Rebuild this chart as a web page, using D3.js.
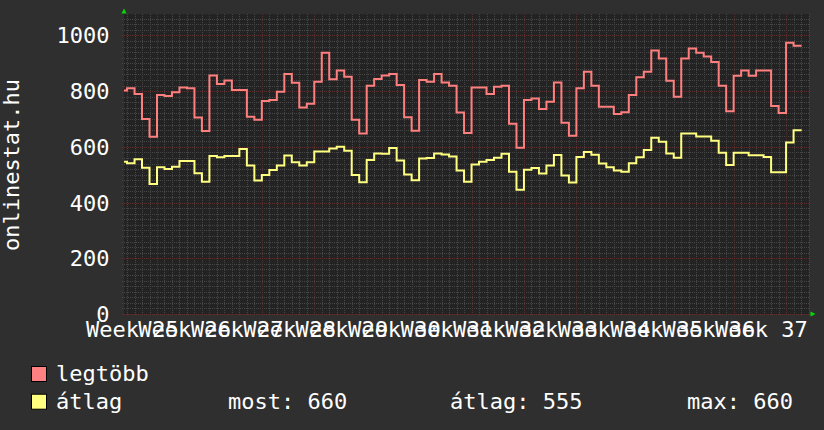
<!DOCTYPE html>
<html>
<head>
<meta charset="utf-8">
<script src="https://cdn.jsdelivr.net/npm/d3@7"></script>
<style>
  html, body { margin: 0; padding: 0; background: #2f2f2f; }
  svg { display: block; }
  text { font-family: "DejaVu Sans Mono", monospace; fill: #ffffff; }
</style>
</head>
<body>
<svg id="chart" width="824" height="430"></svg>
<script>
// ---- data (daily values; day 0 = start of Week 26 gridline) ----
const firstDay = -5;              // first (partial) day shown
const lastDayLength = 1.07;       // the last day is still running
const weekNumbers = [25, 26, 27, 28, 29, 30, 31, 32, 33, 34, 35, 36, 37];
const yTicks = [0, 200, 400, 600, 800, 1000];

const legtobb = [
  802, 810, 790, 700, 636,
  786, 783, 796, 813, 810, 705, 657,
  856, 826, 838, 804, 804, 708, 697,
  765, 768, 798, 862, 830, 741, 755,
  834, 938, 843, 874, 852, 697, 648,
  819, 844, 856, 862, 822, 706, 658,
  840, 834, 862, 831, 819, 723, 650,
  813, 813, 790, 816, 819, 683, 597,
  768, 774, 736, 762, 831, 687, 640,
  810, 870, 819, 744, 744, 718, 724,
  786, 850, 870, 946, 917, 837, 780,
  917, 953, 938, 924, 905, 819, 728,
  855, 874, 855, 874, 874, 747, 722,
  974, 963
];
const atlag = [
  547, 541, 556, 525, 467,
  527, 521, 529, 549, 549, 505, 475,
  567, 563, 567, 567, 592, 533, 479,
  499, 517, 533, 569, 545, 533, 545,
  583, 583, 594, 600, 586, 499, 473,
  553, 576, 575, 596, 551, 501, 480,
  558, 560, 576, 573, 565, 515, 475,
  537, 547, 553, 561, 575, 511, 446,
  518, 524, 504, 533, 571, 497, 472,
  564, 582, 572, 540, 527, 515, 511,
  541, 563, 589, 633, 618, 576, 561,
  648, 648, 637, 637, 622, 579, 535,
  579, 579, 570, 570, 564, 509, 509,
  616, 660
];
const legendStats = { most: 660, atlag: 555, max: 660 };

// ---- layout ----
const svg = d3.select("#chart");
const plot = { left: 124, right: 809, top: 14, bottom: 314 };
const x = d3.scaleLinear().domain([-4.406, 87.06]).range([plot.left, plot.right]);
const y = d3.scaleLinear().domain([0, 1077]).range([plot.bottom, plot.top]);

svg.append("rect").attr("width", 824).attr("height", 430).attr("fill", "#2f2f2f");
svg.append("rect")
  .attr("x", plot.left).attr("y", plot.top)
  .attr("width", plot.right - plot.left).attr("height", plot.bottom - plot.top)
  .attr("fill", "#232323");

const grid = svg.append("g").attr("shape-rendering", "crispEdges");
const [d0, d1] = x.domain();
const dayTicks = d3.range(Math.ceil(d0), Math.floor(d1) + 1);
const valTicks = d3.range(0, 1077, 20);

// minor grid
grid.selectAll("line.vminor").data(dayTicks.filter(d => d % 7 !== 0)).join("line")
  .attr("x1", d => Math.round(x(d)) + 0.5).attr("x2", d => Math.round(x(d)) + 0.5)
  .attr("y1", plot.top).attr("y2", plot.bottom + 2)
  .attr("stroke", "#464646").attr("stroke-dasharray", "1,1");
grid.selectAll("line.hminor").data(valTicks.filter(v => v % 200 !== 0)).join("line")
  .attr("y1", v => Math.round(y(v)) + 0.5).attr("y2", v => Math.round(y(v)) + 0.5)
  .attr("x1", plot.left - 2).attr("x2", plot.right)
  .attr("stroke", "#464646").attr("stroke-dasharray", "1,1");
// major grid
grid.selectAll("line.vmajor").data(dayTicks.filter(d => d % 7 === 0)).join("line")
  .attr("x1", d => Math.round(x(d)) + 0.5).attr("x2", d => Math.round(x(d)) + 0.5)
  .attr("y1", plot.top).attr("y2", plot.bottom + 2)
  .attr("stroke", "#5c2e2e").attr("stroke-dasharray", "1,1");
grid.selectAll("line.hmajor").data(yTicks).join("line")
  .attr("y1", v => Math.round(y(v)) + 0.5).attr("y2", v => Math.round(y(v)) + 0.5)
  .attr("x1", plot.left - 2).attr("x2", plot.right)
  .attr("stroke", "#5c2e2e").attr("stroke-dasharray", "1,1");

// ---- series ----
function stepPoints(vals) {
  const pts = vals.map((v, i) => ({ t: Math.max(firstDay + i, d0), v }));
  const lastT = firstDay + vals.length - 1 + lastDayLength;
  pts.push({ t: lastT, v: vals[vals.length - 1] });
  return pts;
}
const line = d3.line().x(d => x(d.t)).y(d => y(d.v)).curve(d3.curveStepAfter);

svg.append("path").datum(stepPoints(legtobb))
  .attr("d", line).attr("fill", "none")
  .attr("stroke", "#ff7f7f").attr("stroke-width", 2);
svg.append("path").datum(stepPoints(atlag))
  .attr("d", line).attr("fill", "none")
  .attr("stroke", "#ffff80").attr("stroke-width", 2);

// ---- arrows ----
svg.append("path")
  .attr("d", d3.line()([[plot.left - 2.5, plot.top - 0.5], [plot.left + 2.5, plot.top - 0.5], [plot.left, plot.top - 5.5]]) + "Z")
  .attr("fill", "#00dd00");
svg.append("path")
  .attr("d", d3.line()([[plot.right + 1.5, plot.bottom - 2.5], [plot.right + 1.5, plot.bottom + 2.5], [plot.right + 6.5, plot.bottom]]) + "Z")
  .attr("fill", "#00dd00");

// ---- axis labels ----
const fs = 22;
svg.selectAll("text.ylab").data(yTicks).join("text")
  .attr("x", 109.5).attr("y", v => y(v) + 8)
  .attr("text-anchor", "end").attr("font-size", fs)
  .text(v => String(v));

svg.selectAll("text.xlab").data(weekNumbers).join("text")
  .attr("x", (w, i) => x(7 * i - 3.3)).attr("y", 337)
  .attr("text-anchor", "middle").attr("font-size", fs)
  .text(w => "Week " + w);

svg.append("text")
  .attr("transform", `translate(18.5,${(plot.top + plot.bottom) / 2 + 1}) rotate(-90)`)
  .attr("text-anchor", "middle").attr("font-size", fs)
  .text("onlinestat.hu");

// ---- legend ----
const legendItems = [
  { name: "legtöbb", color: "#ff8080" },
  { name: "átlag", color: "#ffff80" }
];
const lg = svg.append("g");
legendItems.forEach((it, i) => {
  lg.append("rect")
    .attr("x", 31.5).attr("y", 366.5 + i * 27.7)
    .attr("width", 15).attr("height", 15)
    .attr("fill", it.color).attr("stroke", "#000").attr("stroke-width", 1);
  lg.append("text")
    .attr("x", 56).attr("y", 380.5 + i * 28)
    .attr("font-size", fs).text(it.name);
});
lg.append("text").attr("x", 228).attr("y", 408.5).attr("font-size", fs)
  .text("most: " + legendStats.most);
lg.append("text").attr("x", 450).attr("y", 408.5).attr("font-size", fs)
  .text("átlag: " + legendStats.atlag);
lg.append("text").attr("x", 687).attr("y", 408.5).attr("font-size", fs)
  .text("max: " + legendStats.max);
</script>
</body>
</html>
